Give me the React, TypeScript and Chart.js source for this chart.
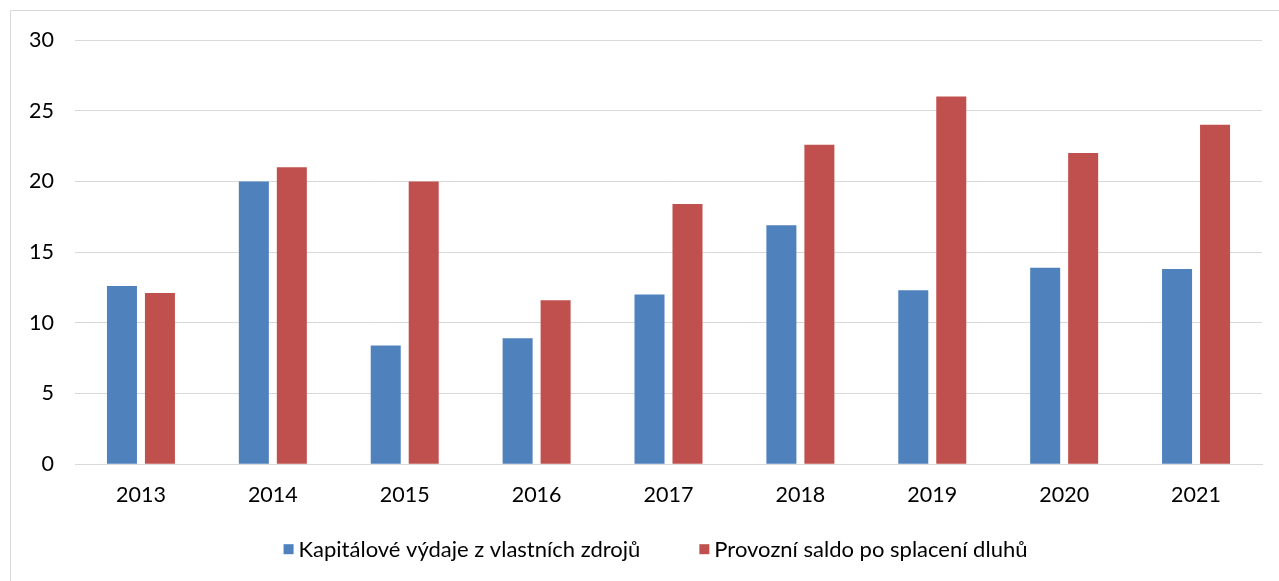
import React, { useEffect, useRef } from "react";
import { Chart, registerables } from "chart.js";

Chart.register(...registerables);

const years = ["2013", "2014", "2015", "2016", "2017", "2018", "2019", "2020", "2021"];
const kapitaloveVydaje = [12.6, 20.0, 8.4, 8.9, 12.0, 16.9, 12.3, 13.9, 13.8];
const provozniSaldo = [12.1, 21.0, 20.0, 11.6, 18.4, 22.6, 26.0, 22.0, 24.0];
const seriesLabels = ["Kapitálové výdaje z vlastních zdrojů", "Provozní saldo po splacení dluhů"];
const seriesColors = ["#4f81bd", "#c0504d"];
const yTicks = [0, 5, 10, 15, 20, 25, 30];

const FONT = "Lato, 'Noto Sans', sans-serif";

const bottomLegend = {
  id: "bottomLegend",
  afterDraw(chart: any) {
    const ctx = chart.ctx;
    const size = 22;
    const box = 10;
    const boxGap = 5;
    const itemGap = 59;
    ctx.save();
    ctx.font = `${size}px ${FONT}`;
    ctx.textBaseline = "middle";
    ctx.textAlign = "left";
    const items = chart.data.datasets.map((ds: any) => ({
      text: ds.label,
      color: ds.backgroundColor,
      w: ctx.measureText(ds.label).width,
    }));
    const total =
      items.reduce((a: number, it: any) => a + box + boxGap + it.w, 0) + itemGap * (items.length - 1);
    const centerX = (chart.chartArea.left + chart.chartArea.right) / 2 - 13;
    const y = chart.chartArea.bottom + 85;
    let x = centerX - total / 2;
    items.forEach((it: any) => {
      ctx.fillStyle = it.color;
      ctx.fillRect(x, y - box / 2, box, box);
      ctx.fillStyle = "#000";
      ctx.fillText(it.text, x + box + boxGap, y + 1);
      x += box + boxGap + it.w + itemGap;
    });
    ctx.restore();
  },
};

export default function App() {
  const ref = useRef<HTMLCanvasElement | null>(null);
  useEffect(() => {
    if (!ref.current) return;
    const chart = new Chart(ref.current, {
      type: "bar",
      data: {
        labels: years,
        datasets: [
          {
            label: seriesLabels[0],
            data: kapitaloveVydaje,
            backgroundColor: seriesColors[0],
            barPercentage: 0.79,
            categoryPercentage: 0.576,
          },
          {
            label: seriesLabels[1],
            data: provozniSaldo,
            backgroundColor: seriesColors[1],
            barPercentage: 0.79,
            categoryPercentage: 0.576,
          },
        ],
      },
      options: {
        animation: false,
        responsive: false,
        maintainAspectRatio: false,
        layout: { padding: { left: 20, right: 17, top: 40, bottom: 55 } },
        plugins: {
          tooltip: { enabled: false },
          legend: { display: false },
        },
        scales: {
          x: {
            grid: { display: false, drawTicks: false },
            border: { color: "#d9d9d9", width: 1 },
            ticks: { color: "#000", font: { family: FONT, size: 21.5 }, padding: 18 },
          },
          y: {
            min: 0,
            max: 30,
            afterBuildTicks: (s: any) => {
              s.ticks = yTicks.map((v) => ({ value: v }));
            },
            afterFit: (s: any) => {
              s.width = 55;
            },
            grid: { color: "#d9d9d9", lineWidth: 1, drawTicks: false },
            border: { display: false },
            ticks: { color: "#000", font: { family: FONT, size: 21.5 }, padding: 21 },
          },
        },
      },
      plugins: [bottomLegend],
    });
    return () => chart.destroy();
  }, []);
  return (
    <div style={{ position: "fixed", left: 0, top: 0, width: 1279, height: 581, background: "#fff" }}>
      <div
        style={{
          position: "absolute",
          left: 10,
          top: 10,
          width: 1300,
          height: 600,
          border: "1px solid #d9d9d9",
          boxSizing: "border-box",
        }}
      />
      <canvas ref={ref} width={1279} height={581} style={{ position: "absolute", left: 0, top: 0 }} />
    </div>
  );
}
